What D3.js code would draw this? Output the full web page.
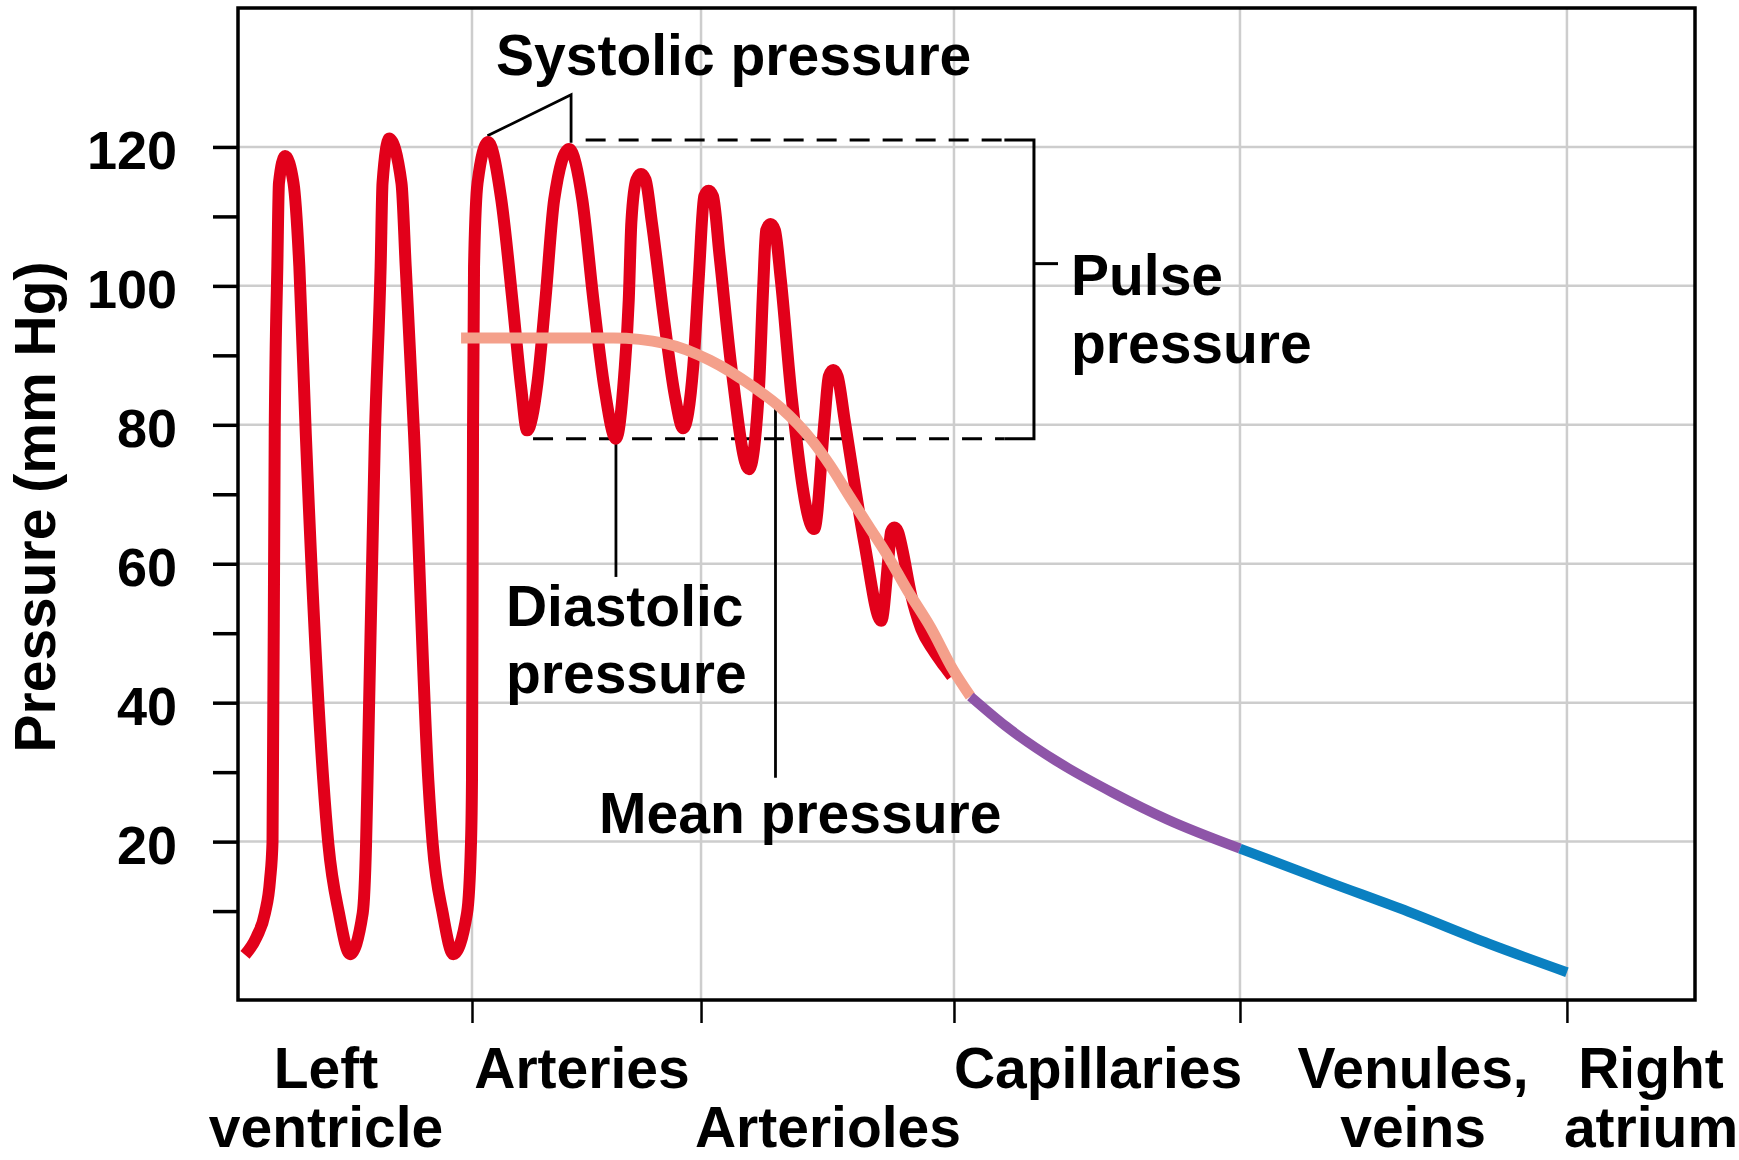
<!DOCTYPE html>
<html><head><meta charset="utf-8">
<script src="https://cdn.jsdelivr.net/npm/d3@7"></script>
<style>
body{margin:0;background:#fff;}
svg text{font-family:"Liberation Sans",Arial,Helvetica,sans-serif;font-weight:bold;fill:#000;}
</style></head><body>
<svg id="chart" width="1739" height="1160"></svg>
<script>
// ---------------- DATA ----------------
// x: relative position along the circulation (0-100), y: pressure in mm Hg
const yTickValues = [10,20,30,40,50,60,70,80,90,100,110,120];
const yTickLabels = ["","20","","40","","60","","80","","100","","120"];
const yGridValues = [20,40,60,80,100,120];
const xTickValues = [16.06,31.78,49.14,68.77,91.21];
const categoryLines = [["Left","ventricle"],["Arteries",""],["","Arterioles"],["Capillaries",""],["Venules,","veins"],["Right","atrium"]];
const categoryX = [6.04,23.61,40.49,59.03,80.65,96.98];
const yTitle = "Pressure (mm Hg)";

// pulsatile pressure: left ventricle -> arteries -> arterioles
const pulsatilePressure = [
 [0.48,3.7],[1.28,6.3],[1.85,9.7],[2.20,14.5],[2.37,20],[2.52,78.8],[2.70,102.8],[2.81,114.8],
 [3.23,118.7],[3.81,114.8],[4.21,102.8],[4.65,78.8],[5.85,28.9],[6.20,19.7],[6.93,9.7],[7.69,3.8],
 [8.56,9.7],[8.79,19.7],[8.89,28.9],[9.40,78.8],[9.79,102.8],[9.92,114.8],[10.38,121.2],[11.22,114.8],
 [11.51,102.8],[12.08,78.8],[13.06,28.9],[13.36,19.7],[14.05,9.7],[14.78,3.8],[15.72,9.7],[15.99,19.7],
 [16.06,28.9],[16.13,78.8],[16.20,102.8],[16.44,114.8],[17.16,120.7],
 [18.07,112.4],[18.83,98.0],[19.44,85.3],[19.84,79.2],
 [20.55,86],[21.10,98.0],[21.70,112.4],[22.72,119.7],
 [23.63,112.4],[24.39,98.0],[25.15,85.3],[25.94,78.0],
 [26.50,87],[26.82,98.0],[27.00,109.2],[27.35,115.3],[27.66,116.1],[27.97,115.3],
 [28.40,109.2],[29.25,95],[30.0,84],[30.55,79.5],
 [31.25,88.5],[31.62,101],[32.00,112.9],[32.30,113.7],[32.60,112.9],
 [33.05,104.4],[33.85,88.5],[35.07,73.6],
 [35.75,85],[36.05,100],[36.25,108.0],[36.55,108.9],[36.85,108.0],
 [37.25,101],[38.00,84],[39.55,65.0],
 [40.25,80.5],[40.55,87.0],[40.85,87.9],[41.15,87.0],
 [41.65,80.5],[43.00,62.9],[44.15,51.8],
 [44.65,61],[44.82,64.6],[45.05,65.2],[45.30,64.6],
 [45.60,62],[46.20,55.5],[46.90,50.6],[47.70,47.6],[48.50,45.2],[49.00,43.8]
];
const meanPressure = [
 [15.31,92.5],[25.74,92.5],[29.36,91.7],[32.39,89.3],[35.41,85.4],[37.28,82.4],[39.38,77.8],
 [40.69,74.0],[42.00,69.6],[43.32,65.3],[44.63,61.0],[45.94,56.2],[47.52,50.9],[49.09,44.7],[50.27,40.9]
];
const capillaryPressure = [[50.27,40.9],[52.71,36.6],[56.40,31.3],[60.08,27.0],[63.76,23.2],[68.77,19.0]];
const venousPressure = [[68.77,19.0],[74.81,14.2],[80.34,9.9],[85.86,5.3],[91.21,1.2]];

// annotations (data coordinates)
const systolicValue = 121, diastolicValue = 78;
const pulseBracket = {x0Top:23.86, x0Bottom:20.25, dashEnd:52.6, x:54.63, tickEnd:56.28, tickY:103.2};
const systolicPointers = [[17.12,121.6],[22.86,127.5],[22.86,120.6]];
const diastolicPointer = [[25.94,78.0],[25.94,58.1]];
const meanPointer = [[36.89,83.1],[36.89,29.2]];
const annotations = [
 {text:"Systolic pressure", x:17.71, y:130.35},
 {text:"Pulse", x:57.17, y:98.7},
 {text:"pressure", x:57.17, y:88.9},
 {text:"Diastolic", x:18.39, y:51.0},
 {text:"pressure", x:18.39, y:41.4},
 {text:"Mean pressure", x:24.78, y:21.2}
];
const colors = {pulsatile:"#e2001a", mean:"#f4a08b", capillary:"#8e55a8", venous:"#0a80c1", grid:"#cdcdcd"};

// ---------------- CHART ----------------
const svg = d3.select("#chart");
const L = 238, R = 1695, T = 8, B = 1000;
const x = d3.scaleLinear().domain([0,100]).range([L,R]);
const y = d3.scaleLinear().domain([-2.8,140]).range([B,T]);
const FS = 57;

// grid
svg.append("g").selectAll("line").data(yGridValues).join("line")
  .attr("x1",L).attr("x2",R).attr("y1",d=>y(d)).attr("y2",d=>y(d))
  .attr("stroke",colors.grid).attr("stroke-width",2.5);
svg.append("g").selectAll("line").data(xTickValues).join("line")
  .attr("x1",d=>x(d)).attr("x2",d=>x(d)).attr("y1",T).attr("y2",B)
  .attr("stroke",colors.grid).attr("stroke-width",2.5);

// axes
const yAxis = d3.axisLeft(y).tickValues(yTickValues).tickSize(25).tickPadding(36)
  .tickFormat((d,i)=>yTickLabels[i]);
const gy = svg.append("g").attr("transform",`translate(${L},0)`).call(yAxis);
gy.select(".domain").remove();
gy.selectAll(".tick line").attr("stroke","#000").attr("stroke-width",3.5);
gy.selectAll(".tick text").attr("font-size",54).attr("dy","0.4em")
  .style("font-family","'Liberation Sans',Arial,sans-serif").style("font-weight","bold");

const xAxis = d3.axisBottom(x).tickValues(xTickValues).tickSize(23).tickFormat("");
const gx = svg.append("g").attr("transform",`translate(0,${B})`).call(xAxis);
gx.select(".domain").remove();
gx.selectAll(".tick line").attr("stroke","#000").attr("stroke-width",2.5);

// frame
svg.append("rect").attr("x",L).attr("y",T).attr("width",R-L).attr("height",B-T)
  .attr("fill","none").attr("stroke","#000").attr("stroke-width",3.5);

// category labels
const baselines = [1088, 1147];
categoryLines.forEach((lines,i)=>{
  lines.forEach((t,j)=>{
    if(!t) return;
    svg.append("text").attr("x",x(categoryX[i])).attr("y",baselines[j])
      .attr("text-anchor","middle").attr("font-size",FS).text(t);
  });
});

// y title
svg.append("text").attr("transform","translate(55,507) rotate(-90)")
  .attr("text-anchor","middle").attr("font-size",FS).text(yTitle);

// bracket and pointers
const g = svg.append("g").attr("stroke","#000").attr("fill","none");
const dash = "20 13";
g.append("line").attr("x1",x(pulseBracket.x0Top)).attr("x2",x(pulseBracket.dashEnd))
  .attr("y1",y(systolicValue)).attr("y2",y(systolicValue)).attr("stroke-width",3).attr("stroke-dasharray",dash);
g.append("line").attr("x1",x(pulseBracket.x0Bottom)).attr("x2",x(pulseBracket.dashEnd))
  .attr("y1",y(diastolicValue)).attr("y2",y(diastolicValue)).attr("stroke-width",3).attr("stroke-dasharray",dash);
g.append("path").attr("stroke-width",3)
  .attr("d",`M${x(pulseBracket.dashEnd)},${y(systolicValue)}H${x(pulseBracket.x)}V${y(diastolicValue)}H${x(pulseBracket.dashEnd)}`);
g.append("line").attr("x1",x(pulseBracket.x)).attr("x2",x(pulseBracket.tickEnd))
  .attr("y1",y(pulseBracket.tickY)).attr("y2",y(pulseBracket.tickY)).attr("stroke-width",3);
const ptr = d3.line().x(d=>x(d[0])).y(d=>y(d[1]));
g.append("path").attr("d",ptr(systolicPointers)).attr("stroke-width",2.8);
g.append("path").attr("d",ptr(diastolicPointer)).attr("stroke-width",2.8);

// series
const mono = d3.line().x(d=>x(d[0])).y(d=>y(d[1])).curve(d3.curveMonotoneX);
svg.append("path").attr("d",mono(pulsatilePressure)).attr("fill","none")
  .attr("stroke",colors.pulsatile).attr("stroke-width",12).attr("stroke-linejoin","round");
svg.append("path").attr("d",ptr(meanPointer)).attr("stroke","#000").attr("stroke-width",2.8);
svg.append("path").attr("d",mono(meanPressure)).attr("fill","none")
  .attr("stroke",colors.mean).attr("stroke-width",11);
svg.append("path").attr("d",mono(capillaryPressure)).attr("fill","none")
  .attr("stroke",colors.capillary).attr("stroke-width",10);
svg.append("path").attr("d",mono(venousPressure)).attr("fill","none")
  .attr("stroke",colors.venous).attr("stroke-width",10);

// annotation texts
svg.append("g").selectAll("text").data(annotations).join("text")
  .attr("x",d=>x(d.x)).attr("y",d=>y(d.y)).attr("font-size",FS).text(d=>d.text);
</script></body></html>
